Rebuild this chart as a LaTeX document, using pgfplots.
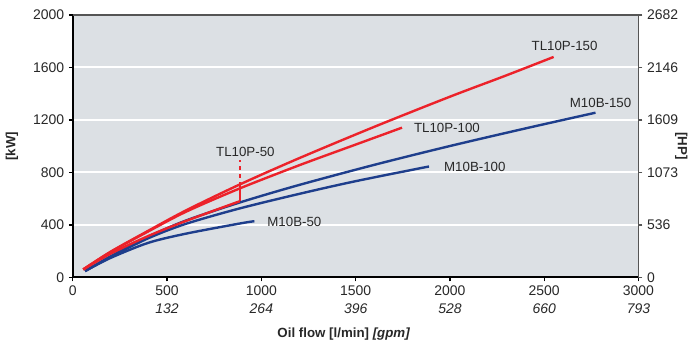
\documentclass[border=0pt]{standalone}
\usepackage{pgfplots}
\pgfplotsset{compat=1.18}
\usepackage{fontspec}
\setmainfont{Liberation Sans}
\definecolor{bg}{RGB}{220,224,228}
\definecolor{myred}{RGB}{236,34,42}
\definecolor{myblue}{RGB}{30,62,140}
\definecolor{framegray}{RGB}{85,85,85}
\definecolor{txt}{RGB}{40,40,40}
\begin{document}
\begin{tikzpicture}
\path (-54.75pt,-50.25pt) rectangle (464.25pt,208.5pt);
\begin{axis}[
  scale only axis, width=425.25pt, height=197.25pt,
  xmin=0, xmax=3000, ymin=0, ymax=2000,
  axis background/.style={fill=bg},
  axis x line*=bottom, axis y line*=left,
  axis line style={-, black, line width=1.5pt},
  tick align=outside, major tick length=3pt,
  tick style={black, line width=1pt},
  ymajorgrids, grid style={white, line width=1.5pt},
  ytick={0,400,800,1200,1600,2000},
  yticklabels={0,400,800,1200,1600,2000},
  xtick={0,500,1000,1500,2000,2500,3000},
  xticklabels={{0},{500\\\textit{132}},{1000\\\textit{264}},{1500\\\textit{396}},{2000\\\textit{528}},{2500\\\textit{660}},{3000\\\textit{793}}},
  xticklabel style={align=center, font=\fontsize{10.5}{13.5}\selectfont, text=txt},
  yticklabel style={font=\fontsize{10.5}{12}\selectfont, text=txt},
  ylabel={\textbf{[kW]}},
  ylabel style={at={(axis description cs:-0.1076,0.5)}, anchor=center, font=\fontsize{10}{12}\selectfont, text=txt},
  xlabel={\textbf{Oil flow [l/min]} \textbf{\textit{[gpm]}}},
  xlabel style={at={(axis description cs:0.479,-0.2167)}, anchor=center, font=\fontsize{10}{12}\selectfont, text=txt},
  clip=false,
]
% M10B series
\addplot[myblue, line width=1.8pt, smooth] coordinates {(65,48)(200,148)(400,263)(600,333)(884,410)(963,428)};
\addplot[myblue, line width=1.8pt, smooth] coordinates {(65,48)(200,155)(400,298)(600,408)(884,525)(1200,636)(1500,733)(1889,845)};
\addplot[myblue, line width=1.8pt, smooth] coordinates {(65,48)(200,160)(400,310)(600,433)(884,570)(1200,704)(1600,858)(2000,1001)(2400,1135)(2772,1255)};
% TL10P series
\addplot[myred, line width=1.8pt, smooth] coordinates {(55,60)(200,180)(400,315)(600,430)(885,580)};
\addplot[myred, line width=1.8pt, smooth] coordinates {(55,60)(200,193)(400,350)(600,500)(884,677)(1200,854)(1500,1012)(1746,1141)};
\addplot[myred, line width=1.8pt, smooth] coordinates {(55,60)(200,195)(400,355)(600,510)(884,707)(1200,908)(1600,1148)(2000,1377)(2300,1540)(2550,1680)};
\addplot[myred, line width=1.3pt] coordinates {(885,580)(885,700)};
\addplot[myred, line width=1.3pt, dashed] coordinates {(885,700)(885,895)};
% labels
\node[font=\fontsize{10}{12}\selectfont, text=txt] at (axis cs:915,958) {TL10P-50};
\node[font=\fontsize{10}{12}\selectfont, text=txt] at (axis cs:1984,1141) {TL10P-100};
\node[font=\fontsize{10}{12}\selectfont, text=txt] at (axis cs:2608,1764) {TL10P-150};
\node[font=\fontsize{10}{12}\selectfont, text=txt] at (axis cs:1175,426) {M10B-50};
\node[font=\fontsize{10}{12}\selectfont, text=txt] at (axis cs:2132,844) {M10B-100};
\node[font=\fontsize{10}{12}\selectfont, text=txt] at (axis cs:2799,1331) {M10B-150};
\end{axis}
\begin{axis}[
  scale only axis, width=425.25pt, height=197.25pt,
  xmin=0, xmax=3000, ymin=0, ymax=2000,
  axis x line*=top, axis y line*=right,
  axis line style={-, framegray, line width=1.3pt},
  xtick=\empty,
  tick align=outside, major tick length=3pt,
  tick style={framegray, line width=1pt},
  ytick={0,400,800,1200,1600,2000},
  yticklabels={0,536,1073,1609,2146,2682},
  yticklabel style={font=\fontsize{10.5}{12}\selectfont, text=txt},
  ylabel={\textbf{[HP]}},
  ylabel style={at={(axis description cs:1.0758,0.5)}, anchor=center, rotate=180, font=\fontsize{10}{12}\selectfont, text=txt},
]
\end{axis}
\end{tikzpicture}
\end{document}
